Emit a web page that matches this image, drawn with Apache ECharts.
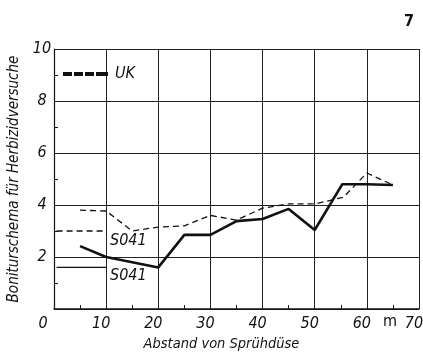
<!DOCTYPE html>
<html><head><meta charset="utf-8">
<script src="https://cdn.jsdelivr.net/npm/echarts@6/dist/echarts.min.js"></script>
<style>html,body{margin:0;padding:0;background:#fff}#c{width:423px;height:352px}</style>
</head><body><div id="c"></div>
<script>
const FONT = '"DejaVu Sans Condensed","Liberation Sans Narrow",sans-serif';
const xTicks = [0, 10, 20, 30, 40, 50, 60, 70];
const yTicks = [0, 2, 4, 6, 8, 10];
// Solid curve (S041)
const solidX = [5, 10, 20, 25, 30, 35, 40, 45, 50, 55.3, 60, 65];
const solidY = [2.42, 2.0, 1.6, 2.85, 2.85, 3.38, 3.46, 3.85, 3.04, 4.8, 4.8, 4.77];
// Dashed curve (UK)
const dashX = [5, 10, 15, 20, 25, 30, 35, 40, 45, 50, 55.5, 60, 65];
const dashY = [3.8, 3.77, 3.0, 3.15, 3.2, 3.6, 3.42, 3.88, 4.04, 4.04, 4.3, 5.23, 4.77];
// Short reference levels at the left
const refX = [0.5, 10];
const refDashY = [3.0, 3.0];
const refSolidY = [1.6, 1.6];

const chart = echarts.init(document.getElementById('c'));
const pair = (xs, ys) => xs.map((x, i) => [x, ys[i]]);
const lab = {fontFamily: FONT, fontStyle: 'italic', color: '#111'};
chart.setOption({
  animation: false,
  backgroundColor: '#fff',
  grid: {left: 54, right: 4, top: 49, bottom: 43, outerBoundsMode: 'none', containLabel: false},
  legend: {
    left: 58, top: 61, itemWidth: 45, itemHeight: 4, itemGap: 0,
    data: [{name: 'UK',
      icon: 'path://M0,0h9v4h-9zM11,0h9v4h-9zM22,0h9v4h-9zM33,0h12v4h-12z',
      itemStyle: {color: '#111'}}],
    textStyle: Object.assign({fontSize: 16, padding: [0, 0, 0, 2]}, lab)
  },
  xAxis: {
    type: 'value', min: 0, max: 70, interval: 10,
    name: 'Abstand von Sprühdüse', nameLocation: 'middle', nameGap: 28,
    nameTextStyle: Object.assign({fontSize: 14.5, padding: [0, 30, 0, 0]}, lab),
    axisLine: {show: true, lineStyle: {color: '#111', width: 1.5}},
    axisTick: {show: false, inside: true},
    minorTick: {show: true, splitNumber: 2, length: 4, lineStyle: {color: '#111'}},
    axisLabel: Object.assign({fontSize: 16, margin: 7, padding: [0, 10, 0, 0],
      formatter: v => v === 0 ? '{z|0}' : String(v),
      rich: {z: Object.assign({fontSize: 16, padding: [0, 12, 0, 0]}, lab)}}, lab),
    splitLine: {show: true, lineStyle: {color: '#222', width: 1}}
  },
  yAxis: {
    type: 'value', min: 0, max: 10, interval: 2,
    name: 'Boniturschema für Herbizidversuche', nameLocation: 'middle', nameGap: 31,
    nameTextStyle: Object.assign({fontSize: 15}, lab),
    axisLine: {show: true, lineStyle: {color: '#111', width: 1.2}},
    axisTick: {show: false, inside: true},
    minorTick: {show: true, splitNumber: 2, length: 4, lineStyle: {color: '#111'}},
    axisLabel: Object.assign({fontSize: 16, margin: 12, align: 'center',
      formatter: v => v === 0 ? '' : String(v)}, lab),
    splitLine: {show: true, lineStyle: {color: '#222', width: 1}}
  },
  graphic: [
    {type: 'text', left: 404, top: 14, style: {text: '7', font: 'bold 16px ' + FONT, fill: '#111'}},
    {type: 'text', left: 383, top: 314, style: {text: 'm', font: '16px ' + FONT, fill: '#111'}},
    {type: 'text', left: 110, top: 233, style: {text: 'S041', font: 'italic 16px ' + FONT, fill: '#111'}},
    {type: 'text', left: 110, top: 268, style: {text: 'S041', font: 'italic 16px ' + FONT, fill: '#111'}}
  ],
  series: [
    {name: 'UK', type: 'line', symbol: 'none', data: pair(dashX, dashY),
      lineStyle: {color: '#111', width: 1.3, type: [6, 4]}},
    {name: 'S041', type: 'line', symbol: 'none', data: pair(solidX, solidY),
      lineStyle: {color: '#111', width: 2.6}},
    {name: 'ref-dash', type: 'line', symbol: 'none', data: pair(refX, refDashY),
      lineStyle: {color: '#111', width: 1.3, type: [6, 4]}},
    {name: 'ref-solid', type: 'line', symbol: 'none', data: pair(refX, refSolidY),
      lineStyle: {color: '#111', width: 1.4}}
  ]
});
</script></body></html>
